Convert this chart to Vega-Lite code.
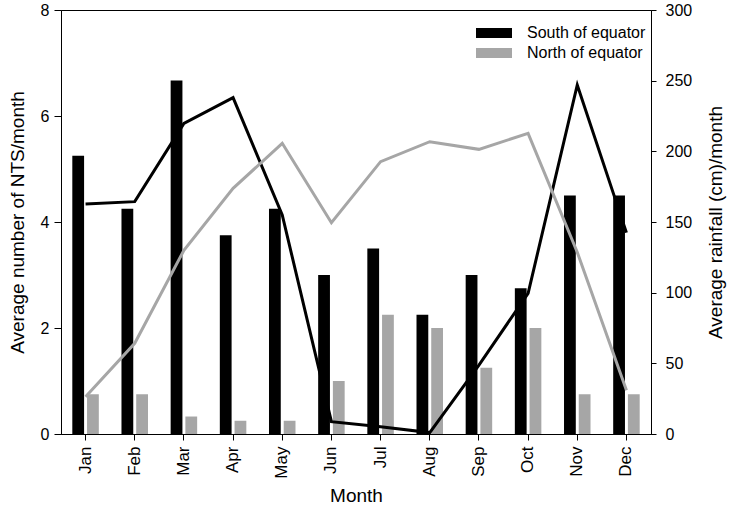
{
  "$schema": "https://vega.github.io/schema/vega-lite/v6.json",
  "width": 590,
  "height": 424,
  "autosize": {"type": "none"},
  "padding": {"left": 61, "top": 10, "right": 83, "bottom": 82},
  "background": "white",
  "config": {
    "font": "Liberation Sans",
    "view": {"stroke": "#000000", "strokeWidth": 1},
    "axis": {
      "grid": false,
      "domainColor": "#000000",
      "tickColor": "#000000",
      "labelColor": "#000000",
      "titleColor": "#000000",
      "labelFont": "Liberation Sans",
      "titleFont": "Liberation Sans",
      "labelFontSize": 16,
      "titleFontSize": 19,
      "titleFontWeight": "normal",
      "tickSize": 7,
      "labelPadding": 5
    },
    "legend": {"labelFont": "Liberation Sans"}
  },
  "data": {
    "values": [
      {"month": "Jan", "region": "South of equator", "nts": 5.25, "rainfall": 162.7},
      {"month": "Feb", "region": "South of equator", "nts": 4.25, "rainfall": 164.4},
      {"month": "Mar", "region": "South of equator", "nts": 6.67, "rainfall": 219.8},
      {"month": "Apr", "region": "South of equator", "nts": 3.75, "rainfall": 238},
      {"month": "May", "region": "South of equator", "nts": 4.25, "rainfall": 155},
      {"month": "Jun", "region": "South of equator", "nts": 3.0, "rainfall": 8.7},
      {"month": "Jul", "region": "South of equator", "nts": 3.5, "rainfall": 5.2},
      {"month": "Aug", "region": "South of equator", "nts": 2.25, "rainfall": 1},
      {"month": "Sep", "region": "South of equator", "nts": 3.0, "rainfall": 48.8},
      {"month": "Oct", "region": "South of equator", "nts": 2.75, "rainfall": 99.5},
      {"month": "Nov", "region": "South of equator", "nts": 4.5, "rainfall": 247},
      {"month": "Dec", "region": "South of equator", "nts": 4.5, "rainfall": 142.5},
      {"month": "Jan", "region": "North of equator", "nts": 0.75, "rainfall": 26.4},
      {"month": "Feb", "region": "North of equator", "nts": 0.75, "rainfall": 64.2},
      {"month": "Mar", "region": "North of equator", "nts": 0.33, "rainfall": 130},
      {"month": "Apr", "region": "North of equator", "nts": 0.25, "rainfall": 173.8},
      {"month": "May", "region": "North of equator", "nts": 0.25, "rainfall": 205.7},
      {"month": "Jun", "region": "North of equator", "nts": 1.0, "rainfall": 149.5},
      {"month": "Jul", "region": "North of equator", "nts": 2.25, "rainfall": 192.7},
      {"month": "Aug", "region": "North of equator", "nts": 2.0, "rainfall": 206.8},
      {"month": "Sep", "region": "North of equator", "nts": 1.25, "rainfall": 201.4},
      {"month": "Oct", "region": "North of equator", "nts": 2.0, "rainfall": 212.7},
      {"month": "Nov", "region": "North of equator", "nts": 0.75, "rainfall": 128.6},
      {"month": "Dec", "region": "North of equator", "nts": 0.75, "rainfall": 31}
    ]
  },
  "encoding": {
    "x": {
      "field": "month",
      "type": "nominal",
      "sort": ["Jan", "Feb", "Mar", "Apr", "May", "Jun", "Jul", "Aug", "Sep", "Oct", "Nov", "Dec"],
      "scale": {"paddingInner": 0.461, "paddingOuter": 0.23},
      "axis": {"title": "Month", "labelAngle": -90, "labelAlign": "right", "labelBaseline": "middle", "labelFontSize": 17, "tickSize": 6, "labelPadding": 6, "titlePadding": 8}
    }
  },
  "layer": [
    {
      "mark": {"type": "bar"},
      "encoding": {
        "xOffset": {"field": "region", "type": "nominal", "scale": {"domain": ["South of equator", "North of equator"], "paddingInner": 0.2, "paddingOuter": 0}},
        "y": {
          "field": "nts",
          "type": "quantitative",
          "scale": {"domain": [0, 8]},
          "axis": {"title": "Average number of NTS/month", "values": [0, 2, 4, 6, 8], "titlePadding": 13}
        },
        "color": {
          "field": "region",
          "type": "nominal",
          "scale": {"domain": ["South of equator", "North of equator"], "range": ["#000000", "#a6a6a6"]},
          "legend": {
            "title": null,
            "orient": "none",
            "legendX": 425,
            "legendY": 15,
            "symbolType": "M-3.6,-1H3.6V1H-3.6Z",
            "symbolSize": 100,
            "symbolStrokeWidth": 0,
            "labelFontSize": 16,
            "labelColor": "#000000",
            "labelOffset": 25,
            "rowPadding": 4,
            "padding": 0
          }
        }
      }
    },
    {
      "mark": {"type": "line", "strokeWidth": 3},
      "encoding": {
        "y": {
          "field": "rainfall",
          "type": "quantitative",
          "scale": {"domain": [0, 300]},
          "axis": {"title": "Average rainfall (cm)/month", "orient": "right", "values": [0, 50, 100, 150, 200, 250, 300], "tickSize": 5, "labelPadding": 9, "titleAngle": -90, "titleBaseline": "top", "titlePadding": 15}
        },
        "color": {"field": "region", "type": "nominal", "legend": null}
      }
    }
  ],
  "resolve": {"scale": {"y": "independent"}}
}
